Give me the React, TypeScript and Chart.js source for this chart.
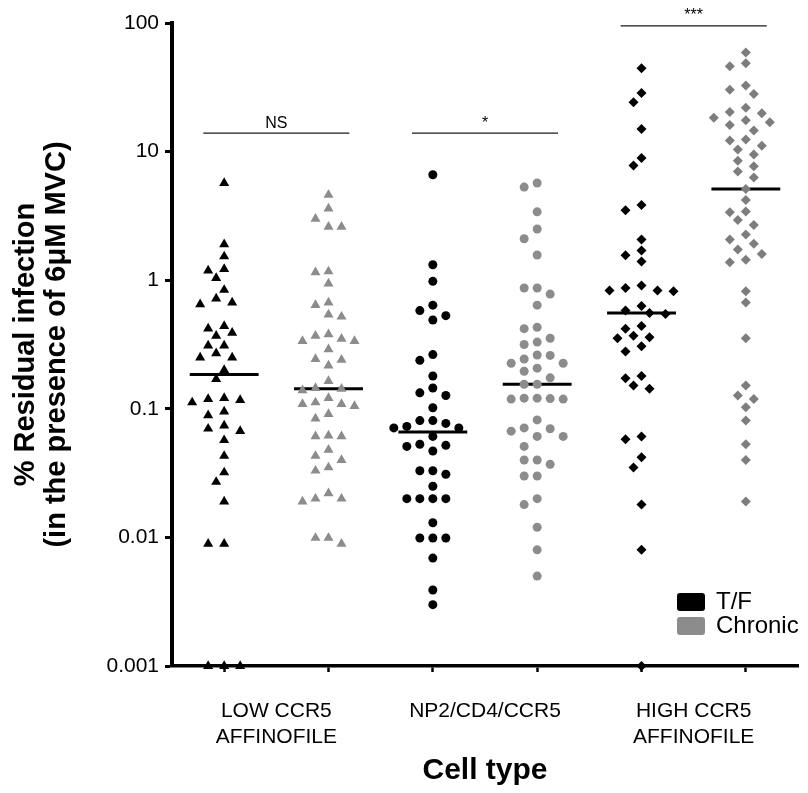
import { useEffect, useRef } from "react";
import { Chart, registerables } from "chart.js";

Chart.register(...registerables);

const yTicks = [0.001, 0.01, 0.1, 1, 10, 100];
const groupCenters = [1, 2, 3, 4, 5, 6];
const categoryLabels = [["LOW CCR5", "AFFINOFILE"], ["NP2/CD4/CCR5"], ["HIGH CCR5", "AFFINOFILE"]];
const categoryCenters = [1.5, 3.5, 5.5];
const seriesNames = ["T/F", "Chronic"];

// % residual infection
const lowTF = [5.7, 1.9, 1.53, 1.22, 1.19, 1.04, 0.84, 0.72, 0.67, 0.65, 0.44, 0.42, 0.39, 0.37, 0.31, 0.31, 0.27, 0.25, 0.25, 0.2, 0.17, 0.121, 0.119, 0.117, 0.112, 0.095, 0.089, 0.074, 0.07, 0.067, 0.057, 0.043, 0.032, 0.027, 0.019, 0.0089, 0.0089, 0.001, 0.001, 0.001];
const lowChronic = [4.6, 3.6, 3.0, 2.6, 2.6, 1.17, 1.15, 0.94, 0.67, 0.64, 0.54, 0.52, 0.38, 0.37, 0.35, 0.336, 0.336, 0.29, 0.244, 0.24, 0.217, 0.164, 0.145, 0.143, 0.139, 0.121, 0.112, 0.109, 0.109, 0.105, 0.091, 0.084, 0.062, 0.061, 0.061, 0.048, 0.043, 0.04, 0.035, 0.033, 0.022, 0.02, 0.02, 0.019, 0.0099, 0.0099, 0.0089];
const np2TF = [6.6, 1.32, 0.98, 0.64, 0.58, 0.53, 0.49, 0.264, 0.238, 0.18, 0.145, 0.133, 0.127, 0.102, 0.081, 0.081, 0.077, 0.073, 0.071, 0.071, 0.061, 0.053, 0.052, 0.051, 0.047, 0.033, 0.033, 0.031, 0.025, 0.02, 0.02, 0.02, 0.02, 0.013, 0.0099, 0.0099, 0.0099, 0.0069, 0.0039, 0.003];
const np2Chronic = [5.7, 5.3, 3.4, 2.5, 2.1, 1.57, 0.87, 0.87, 0.78, 0.64, 0.43, 0.42, 0.354, 0.33, 0.316, 0.262, 0.26, 0.244, 0.226, 0.226, 0.207, 0.196, 0.174, 0.155, 0.155, 0.121, 0.121, 0.12, 0.119, 0.119, 0.082, 0.071, 0.07, 0.067, 0.061, 0.061, 0.051, 0.04, 0.04, 0.037, 0.03, 0.03, 0.02, 0.018, 0.012, 0.008, 0.005];
const highTF = [44.5, 28.6, 24.2, 15, 8.9, 7.8, 3.85, 3.5, 2.07, 1.7, 1.56, 1.4, 0.91, 0.87, 0.83, 0.83, 0.82, 0.63, 0.58, 0.557, 0.547, 0.44, 0.42, 0.37, 0.36, 0.354, 0.307, 0.279, 0.18, 0.173, 0.152, 0.143, 0.061, 0.058, 0.042, 0.035, 0.018, 0.008, 0.001];
const highChronic = [59, 48.7, 46, 32.7, 30.2, 28.1, 21.9, 20.3, 19.9, 18.3, 17.5, 16.9, 16.1, 14.6, 12.4, 12.2, 11.1, 10.4, 9.5, 8.5, 7.7, 7.0, 6.3, 5.13, 4.2, 3.42, 3.38, 2.94, 2.69, 2.27, 2.07, 1.92, 1.73, 1.6, 1.44, 1.38, 0.82, 0.67, 0.354, 0.152, 0.127, 0.119, 0.103, 0.081, 0.053, 0.04, 0.019];

const sigLabels = ["NS", "*", "***"];
const sigLevels = [13.9, 13.9, 95];
const sigPairs = [[1, 2], [3, 4], [5, 6]];

const FONT = "'Liberation Sans', Arial, Helvetica, sans-serif";
const BLACK = "#000000";
const GREY = "#8c8c8c";

// rough pixel scale, only used to lay the dots out side by side
const PX_PER_DECADE = 128.6;
const PX_PER_GROUP = 104.3;

const groups = [
  { values: lowTF, color: BLACK, shape: "triangle", radius: 5.8, step: 8, gap: 10 },
  { values: lowChronic, color: GREY, shape: "triangle", radius: 5.8, step: 13, gap: 12 },
  { values: np2TF, color: BLACK, shape: "circle", radius: 4.5, step: 13, gap: 12 },
  { values: np2Chronic, color: GREY, shape: "circle", radius: 4.5, step: 13, gap: 12 },
  { values: highTF, color: BLACK, shape: "rectRot", radius: 5, step: 8, gap: 10.5 },
  { values: highChronic, color: "#7d7d7d", shape: "rectRot", radius: 5, step: 8, gap: 10.5 },
];

const swarm = (values: number[], center: number, step: number, gap: number) => {
  const sorted = [...values].sort((a, b) => b - a);
  const placed: { dx: number; py: number }[] = [];
  return sorted.map((v) => {
    const py = -Math.log10(v) * PX_PER_DECADE;
    let dx = 0;
    for (let k = 0; k < 30; k++) {
      const cand = k === 0 ? 0 : (k % 2 ? -1 : 1) * Math.ceil(k / 2) * step;
      const hit = placed.some((p) => Math.hypot(p.dx - cand, p.py - py) < gap);
      if (!hit) {
        dx = cand;
        break;
      }
    }
    placed.push({ dx, py });
    return { x: center + dx / PX_PER_GROUP, y: v };
  });
};

const median = (values: number[]) => {
  const s = [...values].sort((a, b) => a - b);
  const m = Math.floor(s.length / 2);
  return s.length % 2 ? s[m] : (s[m - 1] + s[m]) / 2;
};

const sigTextPlugin = {
  id: "sigText",
  afterDatasetsDraw(chart: any) {
    const { ctx, scales } = chart;
    ctx.save();
    ctx.fillStyle = BLACK;
    ctx.font = `16px ${FONT}`;
    ctx.textAlign = "center";
    ctx.textBaseline = "bottom";
    sigLabels.forEach((label, i) => {
      const [a, b] = sigPairs[i];
      ctx.fillText(label, scales.x.getPixelForValue((a + b) / 2), scales.y.getPixelForValue(sigLevels[i]) - 2);
    });
    ctx.restore();
  },
};

const legendPlugin = {
  id: "boxLegend",
  afterDraw(chart: any) {
    const { ctx, chartArea } = chart;
    const colors = [BLACK, GREY];
    ctx.save();
    ctx.font = `24px ${FONT}`;
    ctx.textBaseline = "middle";
    ctx.textAlign = "left";
    seriesNames.forEach((name, i) => {
      const left = chartArea.right - 121;
      const top = chartArea.bottom - 73 + i * 24;
      ctx.fillStyle = colors[i];
      ctx.beginPath();
      ctx.roundRect(left, top, 28, 18, 3);
      ctx.fill();
      ctx.fillStyle = BLACK;
      ctx.fillText(name, left + 39, top + 9);
    });
    ctx.restore();
  },
};

export default function App() {
  const chartRef = useRef<HTMLCanvasElement>(null);

  useEffect(() => {
    if (!chartRef.current) return;
    const ctx = chartRef.current.getContext("2d");
    if (!ctx) return;

    const dotSets = groups.map((g, i) => ({
      label: seriesNames[i % 2],
      data: swarm(g.values, groupCenters[i], g.step, g.gap),
      backgroundColor: g.color,
      borderWidth: 0,
      pointStyle: g.shape,
      pointRadius: g.radius,
      pointHoverRadius: g.radius,
      clip: false as any,
    }));

    const medianSets = groups.map((g, i) => {
      const m = median(g.values);
      return {
        label: "median",
        data: [
          { x: groupCenters[i] - 0.33, y: m },
          { x: groupCenters[i] + 0.33, y: m },
        ],
        showLine: true,
        borderColor: BLACK,
        borderWidth: 3,
        pointRadius: 0,
        clip: false as any,
      };
    });

    const sigSets = sigPairs.map(([a, b], i) => ({
      label: sigLabels[i],
      data: [
        { x: a - 0.2, y: sigLevels[i] },
        { x: b + 0.2, y: sigLevels[i] },
      ],
      showLine: true,
      borderColor: "#1a1a1a",
      borderWidth: 1.3,
      pointRadius: 0,
      clip: false as any,
    }));

    const chart = new Chart(ctx, {
      type: "scatter",
      data: { datasets: [...dotSets, ...medianSets, ...sigSets] as any },
      options: {
        responsive: false,
        animation: false,
        events: [],
        layout: { padding: { top: 23, right: 10, bottom: 0, left: 0 } },
        plugins: {
          legend: { display: false },
          tooltip: { enabled: false },
        },
        scales: {
          x: {
            type: "linear",
            min: 0.5,
            max: 6.5,
            weight: 0,
            afterBuildTicks: (scale: any) => {
              scale.ticks = groupCenters.map((v) => ({ value: v }));
            },
            afterFit: (scale: any) => {
              scale.height = 8;
            },
            ticks: { display: false },
            grid: { drawOnChartArea: false, tickLength: 6, tickWidth: 2.5, tickColor: BLACK, color: BLACK },
            border: { display: true, color: BLACK, width: 3.5 },
          },
          x2: {
            type: "linear",
            position: "bottom",
            min: 0.5,
            max: 6.5,
            weight: 1,
            afterBuildTicks: (scale: any) => {
              scale.ticks = categoryCenters.map((v) => ({ value: v }));
            },
            afterFit: (scale: any) => {
              scale.height = 119;
            },
            ticks: {
              autoSkip: false,
              maxRotation: 0,
              padding: 24,
              color: BLACK,
              font: { family: FONT, size: 21, lineHeight: 1.25 },
              callback: (_v: any, i: number) => categoryLabels[i],
            },
            grid: { display: false, drawTicks: false },
            border: { display: false },
            title: {
              display: true,
              text: "Cell type",
              color: BLACK,
              font: { family: FONT, size: 30, weight: "bold", lineHeight: 1.2 },
              padding: { top: 0, bottom: 4 },
            },
          },
          y: {
            type: "logarithmic",
            min: 0.001,
            max: 100,
            afterBuildTicks: (scale: any) => {
              scale.ticks = yTicks.map((v) => ({ value: v }));
            },
            afterFit: (scale: any) => {
              scale.width = 172;
            },
            ticks: {
              color: BLACK,
              padding: 6,
              font: { family: FONT, size: 21 },
              callback: (v: any) => String(v),
            },
            grid: { drawOnChartArea: false, tickLength: 7, tickWidth: 3, tickColor: BLACK, color: BLACK },
            border: { display: true, color: BLACK, width: 4 },
            title: {
              display: true,
              text: ["% Residual infection", "(in the presence of 6\u03bcM MVC)"],
              color: BLACK,
              font: { family: FONT, size: 29, weight: "bold", lineHeight: 1.07 },
              padding: { top: 10, bottom: 0 },
            },
          },
        },
      },
      plugins: [sigTextPlugin, legendPlugin],
    });

    return () => {
      chart.destroy();
    };
  }, []);

  return (
    <div style={{ position: "absolute", left: 0, top: 0, width: 808, height: 793, background: "#fff" }}>
      <canvas ref={chartRef} width={808} height={793} style={{ width: 808, height: 793 }}></canvas>
    </div>
  );
}
